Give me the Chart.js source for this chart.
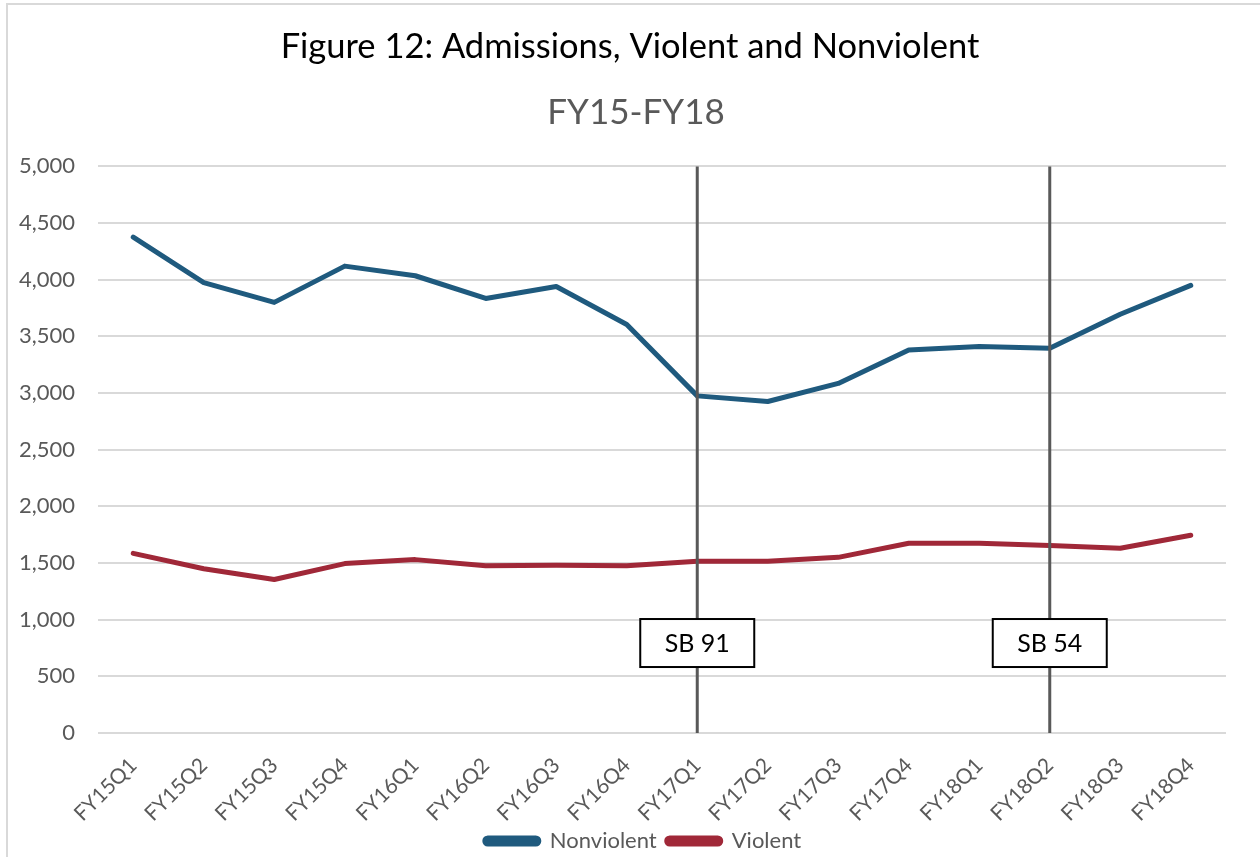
<!DOCTYPE html>
<html>
<head>
<meta charset="utf-8">
<script src="https://cdn.jsdelivr.net/npm/chart.js@4/dist/chart.umd.min.js"></script>
<style>
  html, body { margin: 0; padding: 0; background: #fff; overflow: hidden; }
  #cadre { position: absolute; left: 6px; top: 3px; width: 1300px; height: 900px; border: 2px solid #d9d9d9; }
  #zone { position: absolute; left: 0; top: 0; width: 1260px; height: 857px; }
</style>
</head>
<body>
<div id="cadre"></div>
<div id="zone"><canvas id="chartAdmissions"></canvas></div>
<script>
const trimestres = [
  "FY15Q1", "FY15Q2", "FY15Q3", "FY15Q4", "FY16Q1", "FY16Q2", "FY16Q3", "FY16Q4",
  "FY17Q1", "FY17Q2", "FY17Q3", "FY17Q4", "FY18Q1", "FY18Q2", "FY18Q3", "FY18Q4"
];
const nonViolent = [4375, 3975, 3800, 4120, 4035, 3835, 3940, 3605, 2975, 2925, 3085, 3380, 3410, 3395, 3695, 3950];
const violent = [1585, 1450, 1355, 1495, 1530, 1475, 1480, 1475, 1515, 1515, 1550, 1675, 1675, 1655, 1630, 1745];

// Repères législatifs (ligne verticale + étiquette)
const reperesTrimestres = ["FY17Q1", "FY18Q2"];
const reperesTextes = ["SB 91", "SB 54"];
const reperesNiveau = 794;

const titre = "Figure 12: Admissions, Violent and Nonviolent";
const sousTitre = "FY15-FY18";

const police = "Lato, 'Open Sans', sans-serif";
const gris = "#595959";

function decaler(box, dx, dy) {
  box.left += dx; box.right += dx;
  box.top += dy; box.bottom += dy;
}

const pluginReperes = {
  id: "reperes",
  afterLayout(chart) {
    // dans la figure, titres et légende sont centrés sur toute la largeur
    chart.boxes.forEach(b => {
      if (b === chart.legend) decaler(b, 30, 5);
      else if (b.options && b.options.text === titre) decaler(b, 17, 0);
      else if (b.options && b.options.text === sousTitre) decaler(b, 23, 0);
    });
  },
  afterDatasetsDraw(chart) {
    const { ctx, chartArea, scales } = chart;
    ctx.save();
    reperesTrimestres.forEach((t, i) => {
      const x = scales.x.getPixelForValue(trimestres.indexOf(t));
      ctx.strokeStyle = gris;
      ctx.lineWidth = 3;
      ctx.beginPath();
      ctx.moveTo(x, chartArea.top);
      ctx.lineTo(x, chartArea.bottom);
      ctx.stroke();

      const yc = scales.y.getPixelForValue(reperesNiveau);
      const w = 114, h = 48;
      ctx.fillStyle = "#fff";
      ctx.fillRect(x - w / 2, yc - h / 2, w, h);
      ctx.strokeStyle = "#000";
      ctx.lineWidth = 2;
      ctx.strokeRect(x - w / 2, yc - h / 2, w, h);
      ctx.fillStyle = "#000";
      ctx.font = "25px " + police;
      ctx.textAlign = "center";
      ctx.textBaseline = "middle";
      ctx.fillText(reperesTextes[i], x, yc + 1);
    });
    ctx.restore();
  }
};

new Chart(document.getElementById("chartAdmissions"), {
  type: "line",
  data: {
    labels: trimestres,
    datasets: [
      {
        label: "Nonviolent",
        data: nonViolent,
        borderColor: "#1f5a7e",
        backgroundColor: "#1f5a7e",
        borderWidth: 5,
        pointRadius: 0,
        tension: 0,
        borderCapStyle: "round",
        borderJoinStyle: "round"
      },
      {
        label: "Violent",
        data: violent,
        borderColor: "#a02838",
        backgroundColor: "#a02838",
        borderWidth: 5,
        pointRadius: 0,
        tension: 0,
        borderCapStyle: "round",
        borderJoinStyle: "round"
      }
    ]
  },
  options: {
    responsive: true,
    maintainAspectRatio: false,
    animation: false,
    layout: { padding: { top: 20, right: 34, bottom: 0, left: 0 } },
    plugins: {
      title: {
        display: true,
        text: titre,
        color: "#000",
        font: { family: police, size: 34.5, weight: "normal", lineHeight: 1.2 },
        padding: { top: 6, bottom: 16 }
      },
      subtitle: {
        display: true,
        text: sousTitre,
        color: gris,
        font: { family: police, size: 35, weight: "normal", lineHeight: 1.2 },
        padding: { top: 8, bottom: 33 }
      },
      legend: {
        position: "bottom",
        labels: {
          color: gris,
          font: { family: police, size: 22 },
          boxWidth: 54,
          boxHeight: 6,
          useBorderRadius: true,
          borderRadius: 3,
          padding: 10
        }
      },
      tooltip: { enabled: false }
    },
    scales: {
      x: {
        offset: true,
        grid: { display: false, drawTicks: false },
        border: { display: false },
        ticks: {
          color: gris,
          font: { family: police, size: 21 },
          maxRotation: 45,
          minRotation: 45,
          padding: 20,
          autoSkip: false
        },
        afterFit(axe) {
          axe.height = 82;
          axe._computeLabelArea = () => undefined; // pas de découpe des étiquettes inclinées
        }
      },
      y: {
        min: 0,
        max: 5000,
        grid: { color: "#d9d9d9", lineWidth: 2, drawTicks: false },
        border: { display: false },
        ticks: {
          stepSize: 500,
          color: gris,
          font: { family: police, size: 22 },
          padding: 23,
          callback: v => v.toLocaleString("en-US")
        },
        afterFit(axe) { axe.width = 98; }
      }
    }
  },
  plugins: [pluginReperes]
});
</script>
</body>
</html>
